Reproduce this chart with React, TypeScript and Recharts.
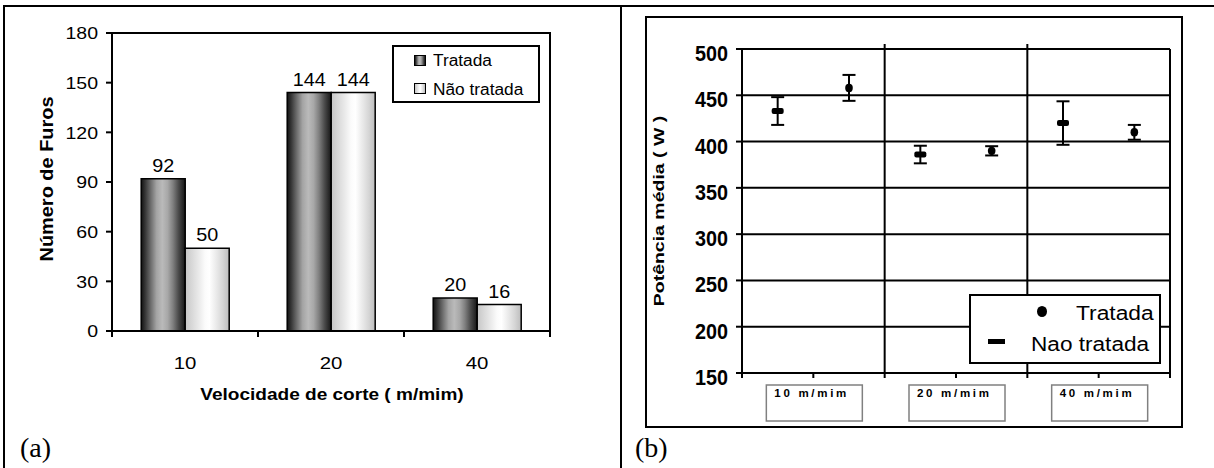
import React from 'react';
import {
  BarChart, Bar, XAxis, YAxis, LabelList, ReferenceArea, Legend,
  ScatterChart, Scatter, ErrorBar, CartesianGrid, ReferenceLine,
} from 'recharts';

// ---------- data (a) ----------
const speedCategories = ['10', '20', '40'];
const furosTratada = [92, 144, 20];
const furosNaoTratada = [50, 144, 16];
const furosTicks = [0, 30, 60, 90, 120, 150, 180];
const furosSeriesNames = ['Tratada', 'Não tratada'];

// ---------- data (b) ----------
const potCategories = ['10 m/mim', '20 m/mim', '40 m/mim'];
const potTratadaMean = [458, 390, 410];
const potTratadaErr = [14, 5, 8];
const potNaoMean = [433, 386, 420];
const potNaoErr = [15, 9.5, 23.5];
const potTicks = [150, 200, 250, 300, 350, 400, 450, 500];
const potSeriesNames = ['Tratada', 'Nao tratada'];

const ARIAL = "'Liberation Sans', Arial, sans-serif";
const SERIF = "'Liberation Serif', 'Times New Roman', serif";

const barData = speedCategories.map((c, i) => ({
  cat: c,
  tratada: furosTratada[i],
  nao: furosNaoTratada[i],
}));

const naoPts = potCategories.map((c, i) => ({ x: i + 0.25, y: potNaoMean[i], err: potNaoErr[i], cat: c }));
const tratPts = potCategories.map((c, i) => ({ x: i + 0.75, y: potTratadaMean[i], err: potTratadaErr[i], cat: c }));
const potXTicks = potCategories.flatMap((_, i) => [i, i + 0.5]).concat([potCategories.length]);
const potDomainMin = potTicks[0];
const potDomainMax = potTicks[potTicks.length - 1];
const gridOverhang = 5.4;

const gradDark = 'linear-gradient(to right, #111 0%, #3a3a3a 10%, #6e6e6e 22%, #a4a4a4 35%, #bababa 48%, #a8a8a8 60%, #808080 72%, #4a4a4a 85%, #151515 100%)';
const gradLight = 'linear-gradient(to right, #c6c6c6 0%, #d8d8d8 15%, #e9e9e9 30%, #fbfbfb 45%, #ffffff 55%, #ebebeb 70%, #d6d6d6 85%, #bdbdbd 100%)';

// stretched svg text helper
const SText = ({ x, y, sx = 1, sy = 1, rot = 0, anchor = 'start', size, bold, children, ...rest }: any) => (
  <text
    transform={`translate(${x},${y})${rot ? ` rotate(${rot})` : ''} scale(${sx},${sy})`}
    x={0}
    y={0}
    textAnchor={anchor}
    fontFamily={ARIAL}
    fontWeight={bold ? 'bold' : 'normal'}
    fontSize={size}
    fill="#000"
    {...rest}
  >
    {children}
  </text>
);

// ---------- ticks / labels (a) ----------
const FurosYTick = (props: any) => {
  const { x, y, payload } = props;
  return <SText x={x} y={y + 6.2} sx={1.22} anchor="end" size={16}>{payload.value}</SText>;
};

const SpeedTick = (props: any) => {
  const { x, y, payload, index, visibleTicksCount } = props;
  const half = payload && typeof payload.offset === 'number' && payload.offset > 0 ? payload.offset : 73;
  const last = index === visibleTicksCount - 1;
  return (
    <g>
      <line x1={x - half} x2={x - half} y1={y} y2={y + 6} stroke="#000" strokeWidth={2} />
      {last && <line x1={x + half} x2={x + half} y1={y} y2={y + 6} stroke="#000" strokeWidth={2} />}
      <SText x={x} y={y + 38} sx={1.2} anchor="middle" size={17}>{payload.value}</SText>
    </g>
  );
};

const BarValueLabel = (props: any) => {
  const { x, y, width, value } = props;
  return <SText x={x + width / 2} y={y - 7} sx={1.1} anchor="middle" size={18}>{value}</SText>;
};

const SpeedTitle = (props: any) => {
  const vb = props.viewBox || { x: 112, y: 331, width: 438, height: 109 };
  return (
    <SText x={vb.x + vb.width / 2 + 1} y={vb.y + 69} sx={1.19} anchor="middle" size={16} bold>
      Velocidade de corte ( m/mim)
    </SText>
  );
};

const FurosTitle = (props: any) => {
  const vb = props.viewBox || { x: 0, y: 33, width: 112, height: 298 };
  return (
    <SText x={vb.x + 52.5} y={vb.y + vb.height / 2 - 3} rot={-90} sx={1.14} anchor="middle" size={17.5} bold>
      Número de Furos
    </SText>
  );
};

const wideSpan = (sx: number): React.CSSProperties => ({
  display: 'inline-block',
  transform: `scaleX(${sx})`,
  transformOrigin: 'left center',
  whiteSpace: 'nowrap',
});

const FurosLegend = () => (
  <div style={{ position: 'relative', width: 148, height: 58, boxSizing: 'border-box', border: '2px solid #000', background: '#fff', fontFamily: ARIAL, fontSize: 16, color: '#000' }}>
    {furosSeriesNames.map((name, i) => (
      <React.Fragment key={name}>
        <span style={{ position: 'absolute', left: 20, top: 8 + i * 28.3, width: 12, height: 11, boxSizing: 'border-box', border: '1.5px solid #000', background: i === 0 ? gradDark : gradLight }} />
        <span style={{ position: 'absolute', left: 39, top: 4.3 + i * 28.7, lineHeight: '20px' }}>
          <span style={wideSpan(1.08)}>{name}</span>
        </span>
      </React.Fragment>
    ))}
  </div>
);

// ---------- ticks / labels (b) ----------
const PotYTick = (props: any) => {
  const { x, y, payload } = props;
  return <SText x={x} y={y + 12} sx={0.9} anchor="end" size={22} bold>{payload.value}</SText>;
};

const PotXTick = (props: any) => {
  const { x, y, payload } = props;
  const v = payload.value;
  if (Math.abs((v % 1) - 0.5) > 0.01) return <g />;
  const label = potCategories[Math.floor(v)];
  return (
    <g>
      <rect x={x - 47} y={y + 7} width={96} height={36} fill="#fff" stroke="#808080" strokeWidth={1.5} />
      <text x={x - 39} y={y + 19} fontFamily={ARIAL} fontWeight="bold" fontSize={11.5} letterSpacing={2.7} fill="#000">
        {label}
      </text>
    </g>
  );
};

const PotTitle = (props: any) => {
  const vb = props.viewBox || { x: 0, y: 31, width: 95, height: 324 };
  return (
    <SText x={vb.x + 17} y={vb.y + vb.height / 2} rot={-90} sx={1.3} anchor="middle" size={15} bold>
      Potência média ( W )
    </SText>
  );
};

const DashMarker = (props: any) => {
  const { cx, cy } = props;
  return <rect x={cx - 6} y={cy - 3} width={12} height={6} rx={2} fill="#000" />;
};

const DotMarker = (props: any) => {
  const { cx, cy } = props;
  return <ellipse cx={cx} cy={cy} rx={3.8} ry={4.2} fill="#000" />;
};

const PotLegend = () => (
  <div style={{ position: 'relative', width: 192, height: 70, boxSizing: 'border-box', border: '2px solid #000', background: '#fff', fontFamily: ARIAL, fontSize: 20, color: '#000' }}>
    <span style={{ position: 'absolute', left: 66.3, top: 9.7, width: 10, height: 11, borderRadius: '50%', background: '#000' }} />
    <span style={{ position: 'absolute', left: 105.3, top: 5, lineHeight: '24px' }}>
      <span style={wideSpan(1.14)}>{potSeriesNames[0]}</span>
    </span>
    <span style={{ position: 'absolute', left: 17.3, top: 43.3, width: 17, height: 4.5, background: '#000' }} />
    <span style={{ position: 'absolute', left: 59.7, top: 35.5, lineHeight: '24px' }}>
      <span style={wideSpan(1.13)}>{potSeriesNames[1]}</span>
    </span>
  </div>
);

export default function App() {
  return (
    <div style={{ position: 'absolute', left: 0, top: 0, width: 1214, height: 468, background: '#fff', overflow: 'hidden' }}>
      {/* table borders */}
      <div style={{ position: 'absolute', left: 3, top: 5, width: 1211, height: 2, background: '#000' }} />
      <div style={{ position: 'absolute', left: 3, top: 5, width: 2, height: 463, background: '#000' }} />
      <div style={{ position: 'absolute', left: 620, top: 5, width: 2, height: 463, background: '#000' }} />

      {/* chart (a) */}
      <div style={{ position: 'absolute', left: 0, top: 0 }}>
        <BarChart width={620} height={440} data={barData} margin={{ top: 33, right: 70, bottom: 0, left: 0 }} barCategoryGap="20%" barGap={0}>
          <defs>
            <linearGradient id="gradT" x1="0" y1="0" x2="1" y2="0">
              <stop offset="0%" stopColor="#111" />
              <stop offset="10%" stopColor="#3a3a3a" />
              <stop offset="22%" stopColor="#6e6e6e" />
              <stop offset="35%" stopColor="#a4a4a4" />
              <stop offset="48%" stopColor="#bababa" />
              <stop offset="60%" stopColor="#a8a8a8" />
              <stop offset="72%" stopColor="#808080" />
              <stop offset="85%" stopColor="#4a4a4a" />
              <stop offset="100%" stopColor="#151515" />
            </linearGradient>
            <linearGradient id="gradN" x1="0" y1="0" x2="1" y2="0">
              <stop offset="0%" stopColor="#c6c6c6" />
              <stop offset="15%" stopColor="#d8d8d8" />
              <stop offset="30%" stopColor="#e9e9e9" />
              <stop offset="45%" stopColor="#fbfbfb" />
              <stop offset="55%" stopColor="#ffffff" />
              <stop offset="70%" stopColor="#ebebeb" />
              <stop offset="85%" stopColor="#d6d6d6" />
              <stop offset="100%" stopColor="#bdbdbd" />
            </linearGradient>
          </defs>
          <ReferenceArea y1={furosTicks[0]} y2={furosTicks[furosTicks.length - 1]} fill="none" stroke="#000" strokeWidth={2} ifOverflow="visible" />
          <XAxis
            dataKey="cat"
            height={109}
            tickSize={0}
            tickMargin={0}
            tickLine={false}
            interval={0}
            axisLine={{ stroke: '#000', strokeWidth: 2 }}
            tick={<SpeedTick />}
            label={{ content: SpeedTitle }}
          />
          <YAxis
            width={112}
            domain={[furosTicks[0], furosTicks[furosTicks.length - 1]]}
            ticks={furosTicks}
            interval={0}
            tickSize={6}
            tickMargin={8}
            axisLine={{ stroke: '#000', strokeWidth: 2 }}
            tickLine={{ stroke: '#000', strokeWidth: 2 }}
            tick={<FurosYTick />}
            label={{ content: FurosTitle }}
          />
          <Legend layout="vertical" align="center" verticalAlign="middle" content={<FurosLegend />} wrapperStyle={{ left: 392, top: 45, width: 148, height: 58 }} />
          <Bar dataKey="tratada" name={furosSeriesNames[0]} fill="url(#gradT)" stroke="#000" strokeWidth={1.5} isAnimationActive={false}>
            <LabelList dataKey="tratada" content={BarValueLabel} />
          </Bar>
          <Bar dataKey="nao" name={furosSeriesNames[1]} fill="url(#gradN)" stroke="#000" strokeWidth={1.5} isAnimationActive={false}>
            <LabelList dataKey="nao" content={BarValueLabel} />
          </Bar>
        </BarChart>
      </div>
      <div style={{ position: 'absolute', left: 20, top: 434, fontFamily: SERIF, fontSize: 28, lineHeight: 1, color: '#000' }}>(a)</div>

      {/* chart (b) */}
      <div style={{ position: 'absolute', left: 645, top: 16, width: 538, height: 412, boxSizing: 'border-box', border: '2px solid #000' }} />
      <div style={{ position: 'absolute', left: 647, top: 18 }}>
        <ScatterChart width={534} height={408} margin={{ top: 31, right: 11, bottom: 0, left: 0 }}>
          <CartesianGrid horizontal vertical={false} stroke="#000" strokeWidth={2} />
          <XAxis
            type="number"
            dataKey="x"
            domain={[0, potCategories.length]}
            ticks={potXTicks}
            interval={0}
            height={53}
            tickSize={5}
            tickMargin={0}
            axisLine={{ stroke: '#000', strokeWidth: 2 }}
            tickLine={{ stroke: '#000', strokeWidth: 2 }}
            tick={<PotXTick />}
          />
          <YAxis
            type="number"
            dataKey="y"
            width={95}
            domain={[potDomainMin, potDomainMax]}
            ticks={potTicks}
            interval={0}
            tickSize={6}
            tickMargin={8}
            axisLine={{ stroke: '#000', strokeWidth: 2 }}
            tickLine={{ stroke: '#000', strokeWidth: 2 }}
            tick={<PotYTick />}
            label={{ content: PotTitle }}
          />
          {potCategories.slice(1).map((_, i) => (
            <ReferenceLine
              key={i}
              segment={[{ x: i + 1, y: potDomainMin }, { x: i + 1, y: potDomainMax + gridOverhang }]}
              stroke="#000"
              strokeWidth={2}
              ifOverflow="visible"
            />
          ))}
          <ReferenceLine x={potCategories.length} stroke="#000" strokeWidth={2} />
          <Legend layout="vertical" align="center" verticalAlign="middle" content={<PotLegend />} wrapperStyle={{ left: 322, top: 276, width: 192, height: 70 }} />
          <Scatter name={potSeriesNames[1]} data={naoPts} fill="#000" shape={DashMarker} isAnimationActive={false}>
            <ErrorBar dataKey="err" direction="y" width={6.5} strokeWidth={2} stroke="#000" />
          </Scatter>
          <Scatter name={potSeriesNames[0]} data={tratPts} fill="#000" shape={DotMarker} isAnimationActive={false}>
            <ErrorBar dataKey="err" direction="y" width={6.5} strokeWidth={2} stroke="#000" />
          </Scatter>
        </ScatterChart>
      </div>
      <div style={{ position: 'absolute', left: 635, top: 434, fontFamily: SERIF, fontSize: 28, lineHeight: 1, color: '#000' }}>(b)</div>
    </div>
  );
}
